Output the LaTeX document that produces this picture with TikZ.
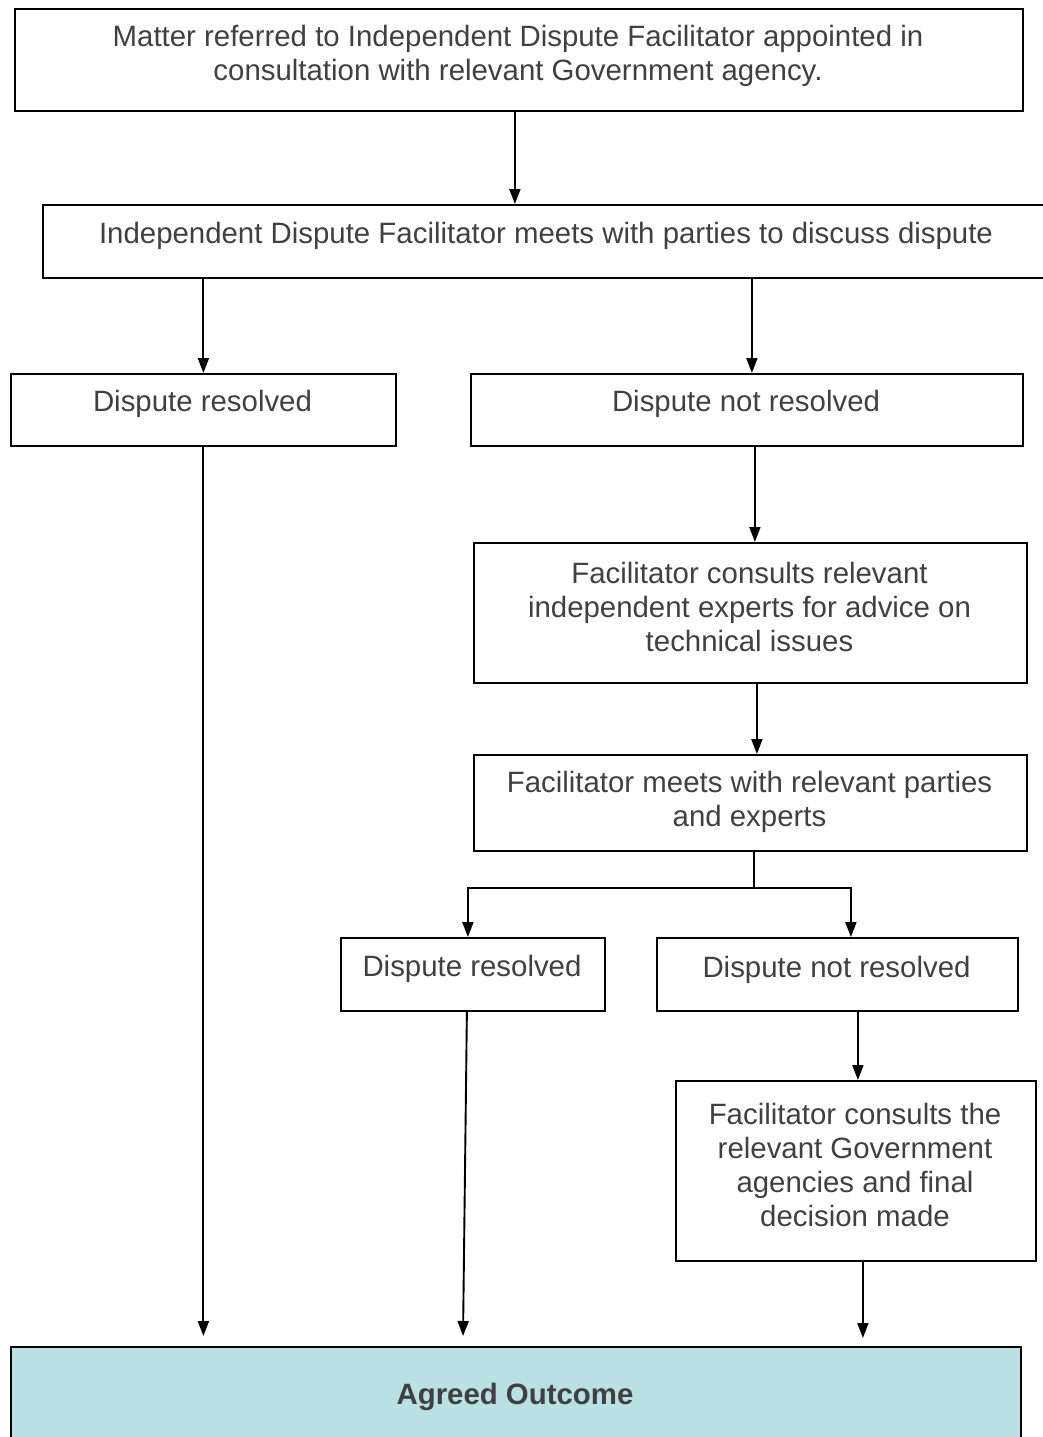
\documentclass[tikz,border=0pt]{standalone}
\usepackage{fontspec}
\setmainfont{Liberation Sans}
\usetikzlibrary{arrows.meta,calc}
\definecolor{txt}{HTML}{404040}
\definecolor{outc}{HTML}{B9E0E3}
\begin{document}
\begin{tikzpicture}[x=1pt,y=-1pt,
  box/.style={draw=black,line width=1.8pt,inner sep=0pt,anchor=north west},
  lbl/.style={text=txt,font=\fontsize{29.4}{33.7}\selectfont,align=center,inner sep=0pt},
  arr/.style={draw=black,line width=1.9pt,-{Triangle[length=15pt,width=11pt]}},
  con/.style={draw=black,line width=1.9pt}]
\useasboundingbox (0,0) rectangle (1042,1437);
\newcommand{\bx}[6][]{\node[box,#1,minimum width=#4-#2,minimum height=#5-#3] (#6) at (#2,#3) {};}
\bx{14}{8}{1022}{110}{b1}
\bx{42}{204}{1060}{277}{b2}
\bx{10}{373}{395}{445}{b3}
\bx{470}{373}{1022}{445}{b4}
\bx{473}{542}{1026}{682}{b5}
\bx{473}{754}{1026}{850}{b6}
\bx{340}{937}{604}{1010}{b7}
\bx{656}{937}{1017}{1010}{b8}
\bx{675}{1080}{1035}{1260}{b9}
\bx[fill=outc]{10}{1346}{1020}{1460}{b10}
\node[lbl] (t1) at (518,56) {Matter referred to Independent Dispute Facilitator appointed in\\consultation with relevant Government agency.};
\node[lbl] (t2) at (546,236) {Independent Dispute Facilitator meets with parties to discuss dispute};
\node[lbl] (t3) at (202.5,404) {Dispute resolved};
\node[lbl] (t4) at (746,404) {Dispute not resolved};
\node[lbl] (t5) at (749.5,607) {Facilitator consults relevant\\independent experts for advice on\\technical issues};
\node[lbl] (t6) at (749.5,802) {Facilitator meets with relevant parties\\and experts};
\node[lbl] (t7) at (472,969) {Dispute resolved};
\node[lbl] (t8) at (836.5,970) {Dispute not resolved};
\node[lbl] (t9) at (855,1165) {Facilitator consults the\\relevant Government\\agencies and final\\decision made};
\node[lbl,font=\fontsize{29.4}{33.7}\selectfont\bfseries] (t10) at (515,1397) {Agreed Outcome};
% connectors
\draw[arr] ([xshift=-4pt]b1.south) -- ([xshift=-4pt]b1.south |- b2.north);
\draw[arr] (b3.north |- b2.south) -- (b3.north);
\draw[arr] ([xshift=5pt]b4.north |- b2.south) -- ([xshift=5pt]b4.north);
\draw[arr] ([xshift=8pt]b4.south) -- ([xshift=8pt]b4.south |- b5.north);
\draw[arr] ([xshift=6.5pt]b5.south) -- ([xshift=6.5pt]b5.south |- b6.north);
\coordinate (j) at (754,888);
\draw[con] (b6.south -| j) -- (j);
\draw[arr] (j) -| ([xshift=-5pt]b7.north);
\draw[arr] (j) -| ([xshift=13.5pt]b8.north);
\draw[arr] ([xshift=2pt]b9.north |- b8.south) -- ([xshift=2pt]b9.north);
\draw[arr,shorten >=8pt] ([xshift=7pt]b9.south) -- ([xshift=7pt]b9.south |- b10.north);
\draw[arr,shorten >=10pt] (b3.south) -- (b3.south |- b10.north);
\draw[arr,shorten >=10pt] ([xshift=-6pt]b7.south) -- ([xshift=-10pt]b7.south |- b10.north);
\end{tikzpicture}
\end{document}
